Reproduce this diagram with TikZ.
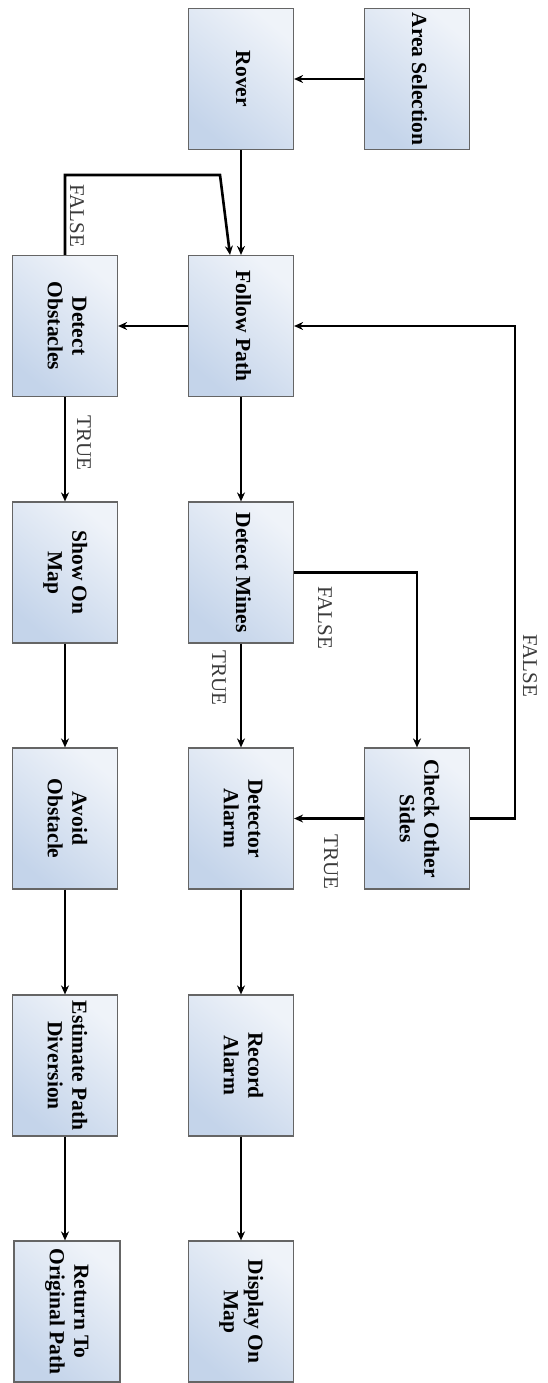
\documentclass[tikz,border=0pt]{standalone}
\usepackage{fontspec}
\setmainfont{Liberation Serif}
\usepackage{graphicx}
\usetikzlibrary{arrows.meta}
\definecolor{boxlight}{HTML}{EFF3F9}
\definecolor{boxdark}{HTML}{C4D4EA}
\definecolor{boxline}{HTML}{656565}
\definecolor{lblcol}{HTML}{3A3A3A}
\newcommand\rtext[1]{\rotatebox{-90}{\fontsize{21.5}{24.5}\selectfont\bfseries\begin{tabular}{@{}c@{}}#1\end{tabular}}}
\newcommand\rlbl[1]{\rotatebox{-90}{\fontsize{21}{23}\selectfont #1}}
\begin{document}
\begin{tikzpicture}[x=1pt,y=-1pt,
  procbox/.style={draw=boxline, line width=1.2pt, top color=boxlight, bottom color=boxdark, shading angle=-40,
    minimum width=105pt, minimum height=141pt, inner sep=0pt},
  arr/.style={draw=black, line width=2.6pt, -{Stealth[length=9pt,width=8pt]}},
  lbl/.style={text=lblcol, inner sep=0pt}]
\useasboundingbox (0,0) rectangle (548,1383);
% column 1
\node[procbox] (detobs) at (65,326) {\rtext{Detect\\Obstacles}};
\node[procbox] (showmap) at (65,572.5) {\rtext{Show On\\Map}};
\node[procbox] (avoid) at (65,818.5) {\rtext{Avoid\\Obstacle}};
\node[procbox] (estim) at (65,1065.5) {\rtext{Estimate Path\\Diversion}};
\node[procbox, minimum width=106pt] (ret) at (67,1311.5) {\rtext{Return To\\Original Path}};
% column 2
\node[procbox] (rover) at (241,79) {\rtext{Rover}};
\node[procbox] (follow) at (241,326) {\rtext{Follow Path}};
\node[procbox] (mines) at (241,572.5) {\rtext{Detect Mines}};
\node[procbox] (alarm) at (241,818.5) {\rtext{Detector\\Alarm}};
\node[procbox] (record) at (241,1065.5) {\rtext{Record\\Alarm}};
\node[procbox] (display) at (241,1311.5) {\rtext{Display On\\Map}};
% column 3
\node[procbox] (area) at (417,79) {\rtext{Area Selection}};
\node[procbox] (check) at (417,818.5) {\rtext{Check Other\\Sides}};
% connectors
\coordinate (fa) at (220,175);
\coordinate (fr) at (515,818.5);
\draw[arr] (area.west) -- (rover.east);
\draw[arr] (rover.south) -- (follow.north);
\draw[arr] (detobs.north) |- (fa) -- ([xshift=-11pt]follow.north);
\draw[arr] (follow.west) -- (detobs.east);
\draw[arr] (detobs.south) -- (showmap.north);
\draw[arr] (follow.south) -- (mines.north);
\draw[arr] (mines.east) -| (check.north);
\draw[arr] (mines.south) -- (alarm.north);
\draw[arr] (check.west) -- (alarm.east);
\draw[arr] (check.east) -- (fr) |- (follow.east);
\draw[arr] (showmap.south) -- (avoid.north);
\draw[arr] (avoid.south) -- (estim.north);
\draw[arr] (estim.south) -- (estim.south |- ret.north);
\draw[arr] (alarm.south) -- (record.north);
\draw[arr] (record.south) -- (display.north);
% labels
\node[lbl] (l1) at (77,216) {\rlbl{FALSE}};
\node[lbl] (l2) at (84,443) {\rlbl{TRUE}};
\node[lbl] (l3) at (325,618) {\rlbl{FALSE}};
\node[lbl] (l4) at (219,678) {\rlbl{TRUE}};
\node[lbl] (l5) at (331,862) {\rlbl{TRUE}};
\node[lbl] (l6) at (530,666) {\rlbl{FALSE}};
\end{tikzpicture}
\end{document}
